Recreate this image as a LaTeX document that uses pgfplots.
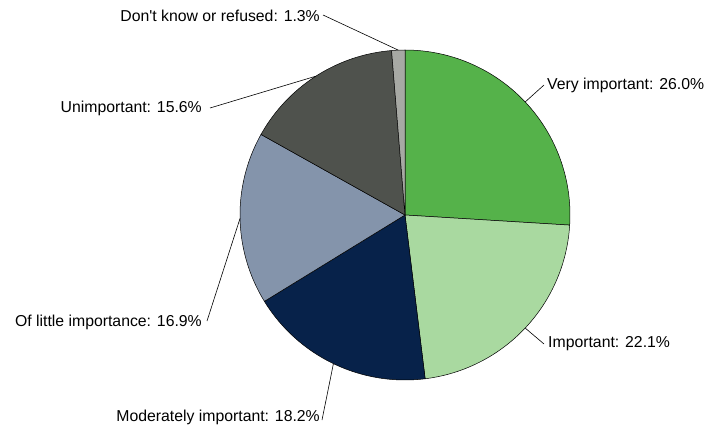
\documentclass[border=0pt]{standalone}
\usepackage{pgfplots}
\pgfplotsset{compat=1.18}
\usepackage{fontspec}
\setmainfont{Liberation Sans}
\definecolor{cVI}{HTML}{55B24A}
\definecolor{cIM}{HTML}{A9D9A0}
\definecolor{cMO}{HTML}{07224A}
\definecolor{cLI}{HTML}{8494AB}
\definecolor{cUN}{HTML}{4F524D}
\definecolor{cDK}{HTML}{A7A9A4}
% data (percent)
\def\vA{26.0}\def\vB{22.1}\def\vC{18.2}\def\vD{16.9}\def\vE{15.6}\def\vF{1.3}
\pgfmathsetmacro\tot{\vA+\vB+\vC+\vD+\vE+\vF}
\pgfmathsetmacro\k{360/\tot}
\pgfmathsetmacro\aA{90}
\pgfmathsetmacro\aB{90-\k*(\vA)}
\pgfmathsetmacro\aC{90-\k*(\vA+\vB)}
\pgfmathsetmacro\aD{90-\k*(\vA+\vB+\vC)}
\pgfmathsetmacro\aE{90-\k*(\vA+\vB+\vC+\vD)}
\pgfmathsetmacro\aF{90-\k*(\vA+\vB+\vC+\vD+\vE)}
\pgfmathsetmacro\aG{90-360}
\newcommand\edgept[4]{% name, a1, a2
  \pgfmathsetmacro\tmpm{(#2+#3)/2}%
  \pgfmathsetmacro#1{405+165*cos(\tmpm)}%
  \pgfmathsetmacro#4{-215+165*sin(\tmpm)}}
\edgept{\xA}{\aA}{\aB}{\yA}
\edgept{\xB}{\aB}{\aC}{\yB}
\edgept{\xC}{\aC}{\aD}{\yC}
\edgept{\xD}{\aD}{\aE}{\yD}
\edgept{\xE}{\aE}{\aF}{\yE}
\edgept{\xF}{\aF}{\aG}{\yF}
\begin{document}
\begin{tikzpicture}
\begin{axis}[
  width=709pt, height=426pt, scale only axis,
  xmin=0, xmax=709, ymin=-426, ymax=0,
  hide axis, clip=false,
]
\addplot[fill=cVI, draw=black, line width=0.5pt, domain=\aB:\aA, samples=90, variable=\t] ({405+165*cos(\t)},{-215+165*sin(\t)}) -- (axis cs:405,-215) -- cycle;
\addplot[fill=cIM, draw=black, line width=0.5pt, domain=\aC:\aB, samples=90, variable=\t] ({405+165*cos(\t)},{-215+165*sin(\t)}) -- (axis cs:405,-215) -- cycle;
\addplot[fill=cMO, draw=black, line width=0.5pt, domain=\aD:\aC, samples=90, variable=\t] ({405+165*cos(\t)},{-215+165*sin(\t)}) -- (axis cs:405,-215) -- cycle;
\addplot[fill=cLI, draw=black, line width=0.5pt, domain=\aE:\aD, samples=90, variable=\t] ({405+165*cos(\t)},{-215+165*sin(\t)}) -- (axis cs:405,-215) -- cycle;
\addplot[fill=cUN, draw=black, line width=0.5pt, domain=\aF:\aE, samples=90, variable=\t] ({405+165*cos(\t)},{-215+165*sin(\t)}) -- (axis cs:405,-215) -- cycle;
\addplot[fill=cDK, draw=black, line width=0.5pt, domain=\aG:\aF, samples=20, variable=\t] ({405+165*cos(\t)},{-215+165*sin(\t)}) -- (axis cs:405,-215) -- cycle;
% leader lines
\draw[line width=0.6pt] (axis cs:\xA,\yA) -- (axis cs:544,-85);
\draw[line width=0.6pt] (axis cs:\xB,\yB) -- (axis cs:544,-344);
\draw[line width=0.6pt] (axis cs:\xC,\yC) -- (axis cs:322,-420);
\draw[line width=0.6pt] (axis cs:\xD,\yD) -- (axis cs:207,-321);
\draw[line width=0.6pt] (axis cs:\xE,\yE) -- (axis cs:210,-108);
\draw[line width=0.6pt] (axis cs:\xF,\yF) -- (axis cs:323,-15);
% labels
\tikzset{lab/.style={inner sep=0pt, font=\fontsize{15.8}{18}\selectfont}}
\node[lab, anchor=west] at (axis cs:547,-85) {Very important: 26.0\%};
\node[lab, anchor=west] at (axis cs:548,-344) {Important: 22.1\%};
\node[lab, anchor=east] at (axis cs:320,-417) {Moderately important: 18.2\%};
\node[lab, anchor=east] at (axis cs:202,-322) {Of little importance: 16.9\%};
\node[lab, anchor=east] at (axis cs:202,-108) {Unimportant: 15.6\%};
\node[lab, anchor=east] at (axis cs:320,-16) {Don\textquotesingle t know or refused: 1.3\%};
\end{axis}
\path (current axis.south west) rectangle (current axis.north east);
\end{tikzpicture}
\end{document}
